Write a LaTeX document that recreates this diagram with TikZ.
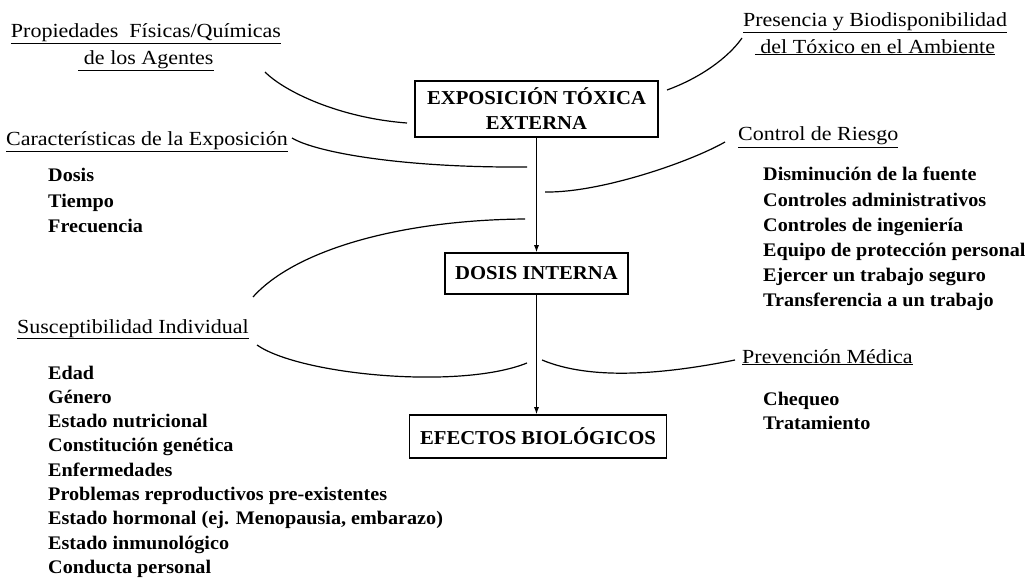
\documentclass[tikz,border=0pt]{standalone}
\usepackage{fontspec}
\setmainfont{Liberation Serif}[FakeStretch=1.05]
\newfontfamily\titfont{Liberation Serif}[FakeStretch=1.1]
\usetikzlibrary{arrows.meta}

\tikzset{
  caja/.style={draw, line width=1.6pt, font=\fontsize{19.7}{25}\selectfont\bfseries, align=center, inner sep=2pt},
  titulo/.style={font=\titfont\fontsize{20}{27}\selectfont, align=center, inner sep=0pt},
  item/.style={font=\fontsize{19.2}{24}\selectfont\bfseries, anchor=base west, inner sep=0pt},
  curva/.style={line width=1.2pt},
}

\begin{document}
\begin{tikzpicture}[x=1pt, y=-1pt, >={Latex[length=7pt,width=5pt]}]
    \useasboundingbox (0,0) rectangle (1035,588);

    % Cajas centrales
    \node[caja, minimum width=243pt, minimum height=56pt] (ext) at (536.5,109) {EXPOSICIÓN TÓXICA\\EXTERNA};
    \node[caja, minimum width=183pt, minimum height=41pt] (dosis) at (536.5,273.5) {DOSIS INTERNA};
    \node[caja, minimum width=257pt, minimum height=43pt] (efectos) at (538,436.5) {EFECTOS BIOLÓGICOS};

    \draw[->, line width=0.9pt] (ext.south -| dosis) -- (dosis);     % flecha 1
    \draw[->, line width=0.9pt] (dosis) -- (dosis |- efectos.north); % flecha 2

    % Titulos subrayados
    \node[titulo, anchor=north] (propiedades) at (146,23) {\underline{Propiedades\ \ Físicas/Químicas}\\\underline{\ de los Agentes}};
    \node[titulo, anchor=north] (presencia) at (875,12) {\underline{Presencia y Biodisponibilidad}\\\underline{\ del Tóxico en el Ambiente}};
    \node[titulo, anchor=base west] (caracteristicas) at (6,146) {\underline{Características de la Exposición}};
    \node[titulo, anchor=base west] (riesgo) at (738,141) {\underline{Control de Riesgo}};
    \node[titulo, anchor=base west] (suscep) at (17,333) {\underline{Susceptibilidad Individual}};
    \node[titulo, anchor=base west] (prevencion) at (742,363) {\underline{Prevención Médica}};

    % Listas
    \foreach \t [count=\i from 0] in {Dosis, Tiempo, Frecuencia}
        \node[item] (expo\i) at (48, 182+25*\i) {\t};
    \foreach \t [count=\i from 0] in {Disminución de la fuente, Controles administrativos, Controles de ingeniería, Equipo de protección personal, Ejercer un trabajo seguro, Transferencia a un trabajo}
        \node[item] (control\i) at (763, 181+25*\i) {\t};
    \foreach \t [count=\i from 0] in {Edad, Género, Estado nutricional, Constitución genética, Enfermedades, Problemas reproductivos pre-existentes, {Estado hormonal (ej. Menopausia, embarazo)}, Estado inmunológico, Conducta personal}
        \node[item] (susc\i) at (48, 379+24.3*\i) {\t};
    \foreach \t [count=\i from 0] in {Chequeo, Tratamiento}
        \node[item] (medica\i) at (763, 405+24*\i) {\t};

    % Extremos de las curvas
    \coordinate (a1) at (265,72);  \coordinate (a2) at (407,123);
    \coordinate (b1) at (667,90);  \coordinate (b2) at (742,38);
    \coordinate (c1) at (292,138); \coordinate (c2) at (527,167);
    \coordinate (d1) at (725,142); \coordinate (d2) at (545,192);
    \coordinate (e1) at (253,297); \coordinate (e2) at (525,219);
    \coordinate (f1) at (257,345); \coordinate (f2) at (527,363);
    \coordinate (g1) at (735,360); \coordinate (g2) at (542,360);

    % Curvas
    \draw[curva] (a1) .. controls (285,92) and (340,118) .. (a2);
    \draw[curva] (b1) .. controls (700,78) and (728,58) .. (b2);
    \draw[curva] (c1) .. controls (315,152) and (400,168) .. (c2);
    \draw[curva] (d1) .. controls (690,162) and (600,193) .. (d2);
    \draw[curva] (e1) .. controls (295,250) and (400,220) .. (e2);
    \draw[curva] (f1) .. controls (300,375) and (460,390) .. (f2);
    \draw[curva] (g1) .. controls (660,375) and (590,380) .. (g2);
\end{tikzpicture}
\end{document}
